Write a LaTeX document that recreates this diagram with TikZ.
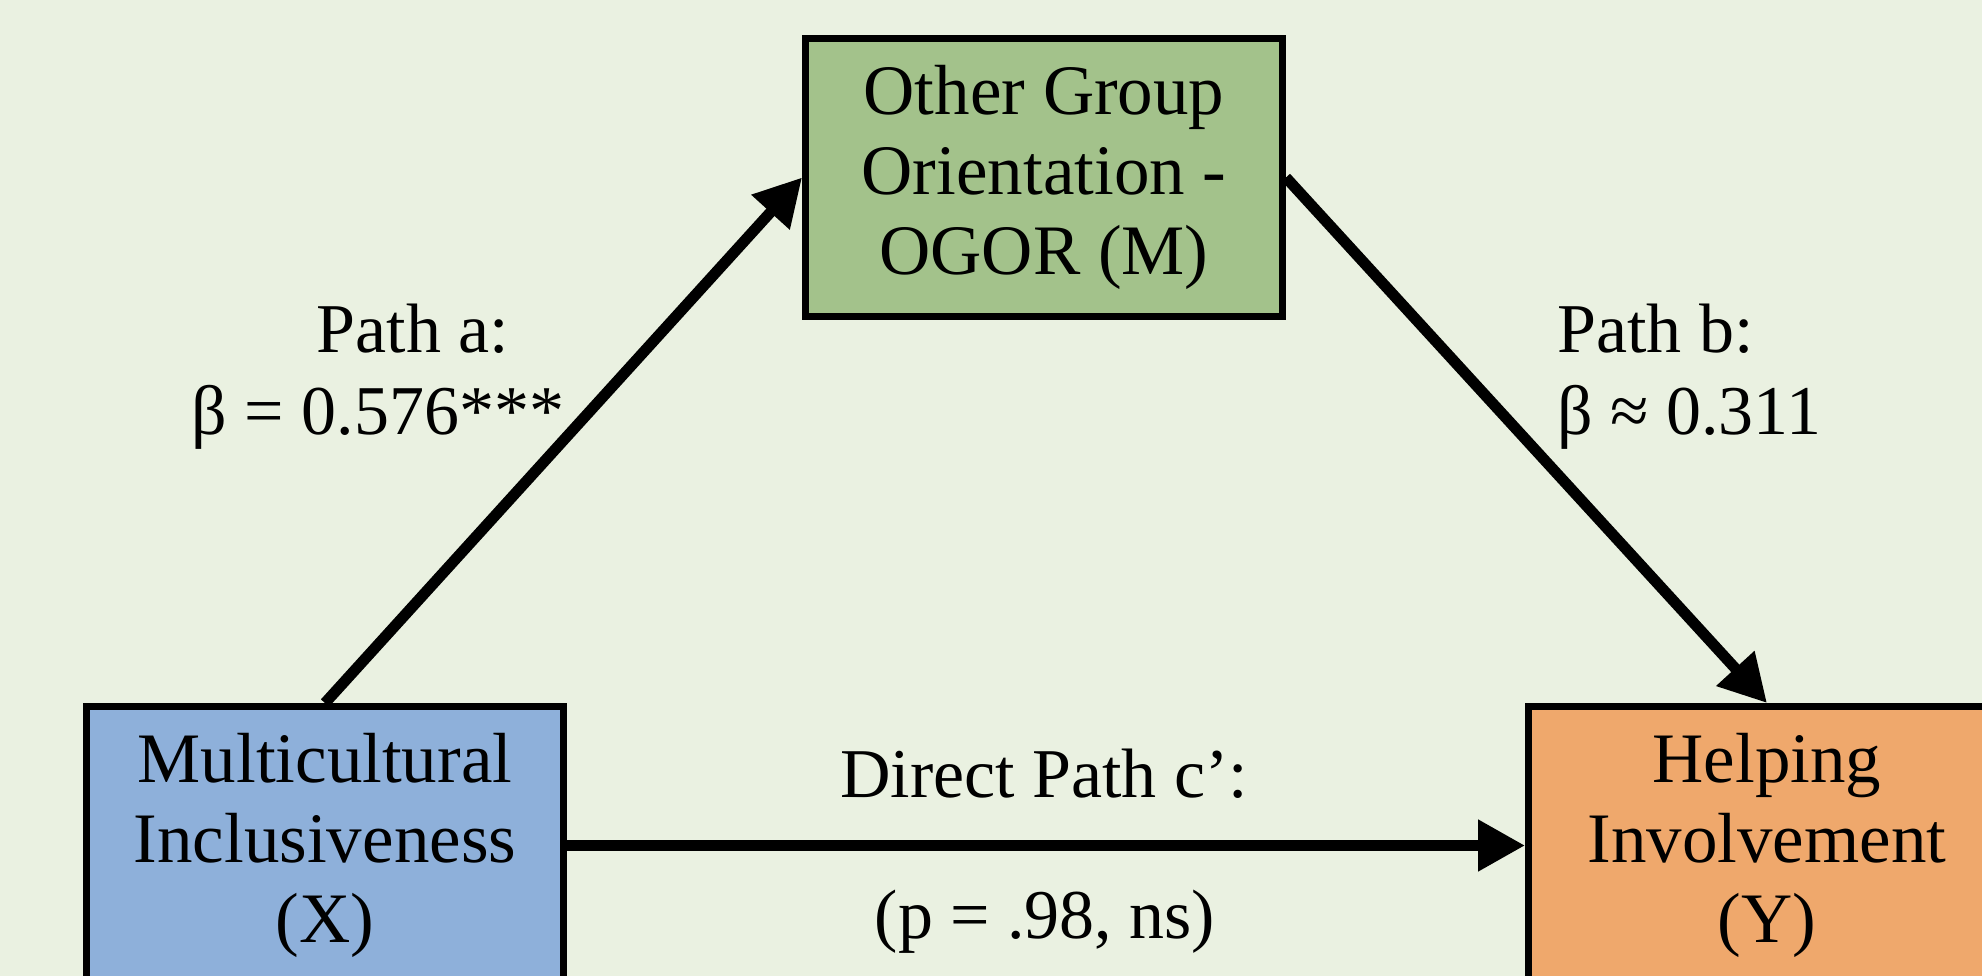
\documentclass[tikz,border=0pt]{standalone}
\usepackage{fontspec}
\setmainfont{Liberation Serif}
\usetikzlibrary{arrows.meta}

\definecolor{paper}{HTML}{EAF1E1}
\definecolor{mfill}{HTML}{A3C28B}
\definecolor{xfill}{HTML}{8EB0DA}
\definecolor{yfill}{HTML}{EFA86C}

\tikzset{
  varbox/.style={draw=black, line width=0.13cm, inner sep=0pt,
    minimum width=9.55cm, minimum height=5.57cm, align=center,
    font=\fontsize{40.4}{45.5}\selectfont},
  conn/.style={line width=0.22cm, draw=black,
    -{Triangle[length=0.94cm, width=0.98cm]}},
  lab/.style={inner sep=0pt, font=\fontsize{39.8}{45.5}\selectfont}
}

\begin{document}
\begin{tikzpicture}[x=0.02cm, y=-0.02cm]
  % canvas
  \fill[paper] (0,0) rectangle (1982,976);
  \useasboundingbox (0,0) rectangle (1982,976);
  \clip (0,0) rectangle (1982,976);

  % variables
  \node[varbox, fill=mfill] (M) at (1044,177.5) {Other Group\\Orientation -\\OGOR (M)};
  \node[varbox, fill=xfill] (X) at (325,845.5) {Multicultural\\Inclusiveness\\(X)};
  \node[varbox, fill=yfill] (Y) at (1767,845.5) {Helping\\Involvement\\(Y)};

  % paths
  \draw[conn] (X.north) -- (M.west);
  \draw[conn] (M.east) -- (Y.north);
  \draw[conn] (X.east) -- (Y.west);

  % path labels
  \node[lab, anchor=base] (pa1) at (413,353) {Path a:};
  \node[lab, anchor=base] (pa2) at (378,435) {β = 0.576***};
  \node[lab, anchor=base west] (pb1) at (1557,353) {Path b:};
  \node[lab, anchor=base west] (pb2) at (1557,435) {β ≈ 0.311};
  \node[lab, anchor=base] (pc1) at (1044,797) {Direct Path c’:};
  \node[lab, anchor=base] (pc2) at (1045,938) {(p = .98, ns)};
\end{tikzpicture}
\end{document}
